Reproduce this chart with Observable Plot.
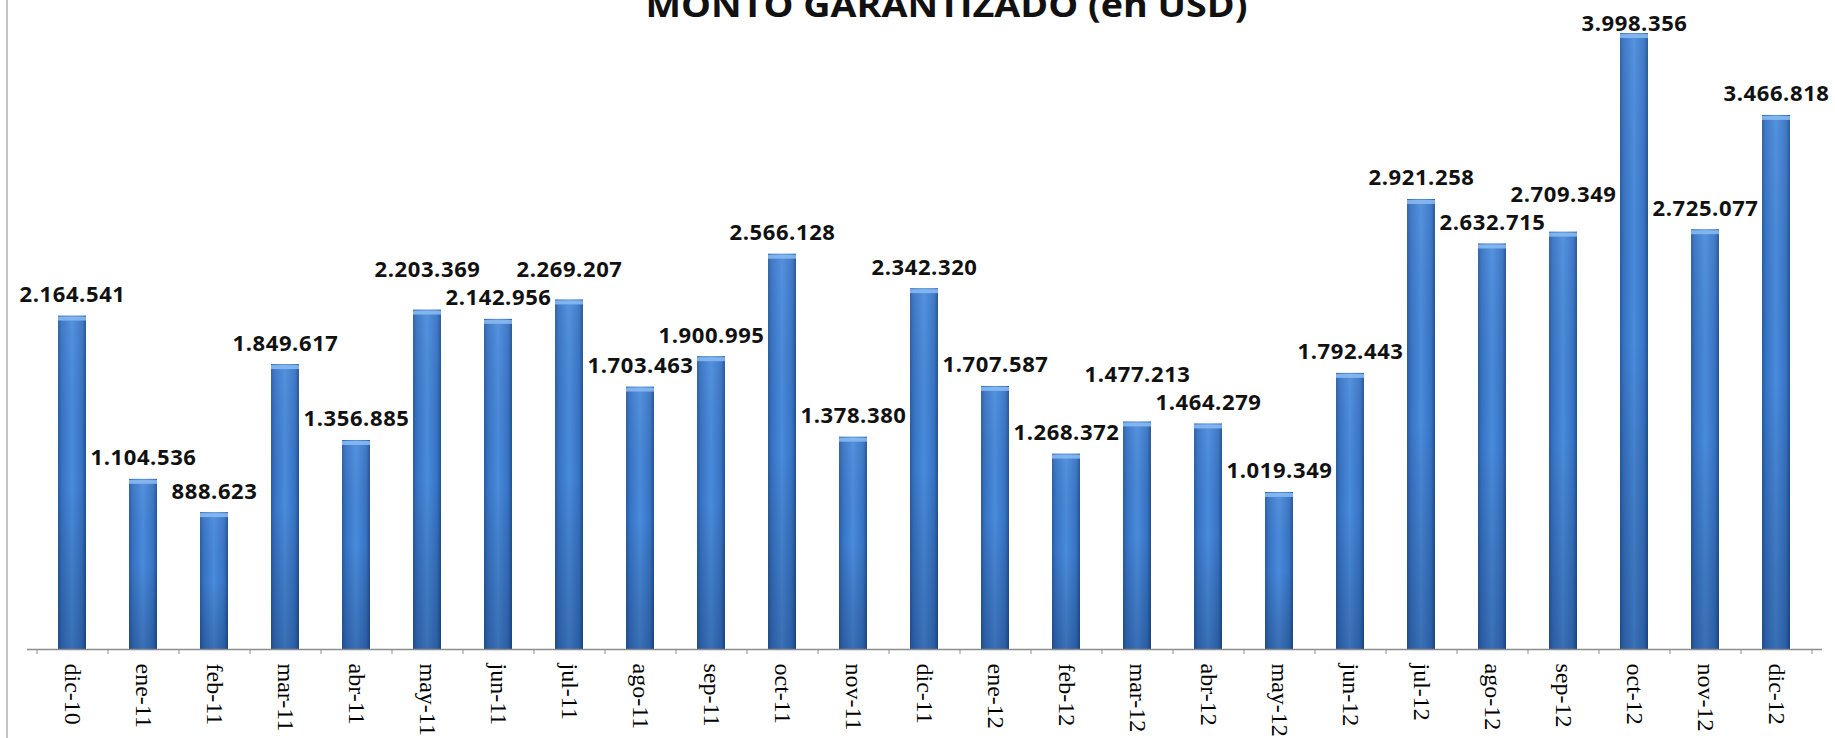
<!DOCTYPE html>
<html>
<head>
<meta charset="utf-8">
<script src="https://cdn.jsdelivr.net/npm/d3@7"></script>
<script src="https://cdn.jsdelivr.net/npm/@observablehq/plot@0.6"></script>
<style>
  body { margin: 0; background: #fff; }
  #wrap { position: relative; width: 1835px; height: 738px; overflow: hidden; background: #fff; }
  #border { position: absolute; left: 6px; top: 0; width: 0; height: 738px; border-left: 2px solid #c4c4c4; }
  #chart { position: absolute; left: 0; top: 0; }
</style>
</head>
<body>
<div id="wrap"><div id="chart"></div><div id="border"></div></div>
<script>
const title = "MONTO GARANTIZADO (en USD)";
const months = ["dic-10","ene-11","feb-11","mar-11","abr-11","may-11","jun-11","jul-11","ago-11","sep-11","oct-11","nov-11","dic-11","ene-12","feb-12","mar-12","abr-12","may-12","jun-12","jul-12","ago-12","sep-12","oct-12","nov-12","dic-12"];
const values = [2164541,1104536,888623,1849617,1356885,2203369,2142956,2269207,1703463,1900995,2566128,1378380,2342320,1707587,1268372,1477213,1464279,1019349,1792443,2921258,2632715,2709349,3998356,2725077,3466818];

const data = months.map((m, i) => ({month: m, value: values[i]}));
const fmt = v => d3.format(",")(v).replace(/,/g, ".");

const W = 1835, H = 738;
const common = {
  width: W, height: H,
  marginLeft: 27, marginRight: 13, marginTop: 2, marginBottom: 89,
  x: {domain: months, paddingInner: 0.6, paddingOuter: 0.3, axis: null, label: null},
  y: {domain: [0, 4200000], axis: null, label: null},
  style: {background: "white", overflow: "visible"}
};

// first pass: obtain the scales
const p0 = Plot.plot({...common, marks: [Plot.barY(data, {x: "month", y: "value"})]});
const yS = p0.scale("y");
const xS = p0.scale("x");
const step = xS.step;

// label layout: above bars, push up the taller neighbour on collisions
const GAP = 14, LH = 28, MINY = 30;
const barTop = data.map(d => yS.apply(d.value));
const py = barTop.map(v => v - GAP);
for (let pass = 0; pass < 50; pass++) {
  let changed = false;
  for (let i = 1; i < py.length; i++) {
    const a = i - 1, b = i;
    if (Math.abs(py[a] - py[b]) < LH) {
      const hi = barTop[a] < barTop[b] ? a : b;
      const lo = hi === a ? b : a;
      const target = py[lo] - LH;
      if (py[hi] > target) { py[hi] = target; changed = true; }
    }
  }
  if (!changed) break;
}
const labels = data.map((d, i) => ({month: d.month, value: d.value, ly: yS.invert(Math.max(MINY, py[i]))}));

const frameCenter = (common.marginLeft + W - common.marginRight) / 2;

const plot = Plot.plot({
  ...common,
  marks: [
    Plot.barY(data, {x: "month", y: "value", fill: "url(#barH)"}),
    Plot.barY(data, {x: "month", y: "value", fill: "url(#barV)"}),
    Plot.tickY(data, {x: "month", y: "value", stroke: "#8cbcf2", strokeWidth: 4, strokeOpacity: 0.85, dy: 2.5}),
    Plot.ruleY([0], {stroke: "#8c8c8c", strokeWidth: 1.3}),
    Plot.axisX({tickSize: 5, tickFormat: () => "", dx: -step / 2, stroke: "#8c8c8c", label: null}),
    Plot.axisX([months[months.length - 1]], {tickSize: 5, tickFormat: () => "", dx: step / 2, stroke: "#8c8c8c", label: null}),
    Plot.axisX({tickSize: 0, tickPadding: 14, tickRotate: 90, fontSize: 24, fontFamily: "Liberation Serif", fill: "#000", label: null}),
    Plot.text(labels, {x: "month", y: "ly", text: d => fmt(d.value), lineAnchor: "bottom",
      fontSize: 22, fontWeight: "bold", fontFamily: "Open Sans", fill: "#111"}),
    Plot.text([title], {frameAnchor: "top", lineAnchor: "bottom", dy: 14, dx: 946 - frameCenter,
      fontSize: 34, fontWeight: "bold", fontFamily: "Open Sans", fill: "#111"})
  ]
});

const svg = d3.select(plot);
const defs = svg.insert("defs", ":first-child");
const gh = defs.append("linearGradient").attr("id", "barH").attr("x1", 0).attr("x2", 1).attr("y1", 0).attr("y2", 0);
[[0, "#2a5ba3"], [0.14, "#3673c4"], [0.5, "#4a8bdc"], [0.86, "#3673c4"], [1, "#23508f"]]
  .forEach(([o, c]) => gh.append("stop").attr("offset", o).attr("stop-color", c));
const gv = defs.append("linearGradient").attr("id", "barV").attr("x1", 0).attr("x2", 0).attr("y1", 0).attr("y2", 1);
[[0, "#ffffff", 0.06], [0.5, "#000000", 0], [1, "#001030", 0.22]]
  .forEach(([o, c, op]) => gv.append("stop").attr("offset", o).attr("stop-color", c).attr("stop-opacity", op));

const valueRe = /^\d{1,3}(\.\d{3})+$/;
svg.selectAll("text").each(function() {
  const t = this.textContent;
  if (t === title) {
    d3.select(this).attr("textLength", 602).attr("lengthAdjust", "spacingAndGlyphs");
  } else if (valueRe.test(t)) {
    d3.select(this).style("letter-spacing", "0.6px");
  }
});

document.getElementById("chart").appendChild(plot);
</script>
</body>
</html>
